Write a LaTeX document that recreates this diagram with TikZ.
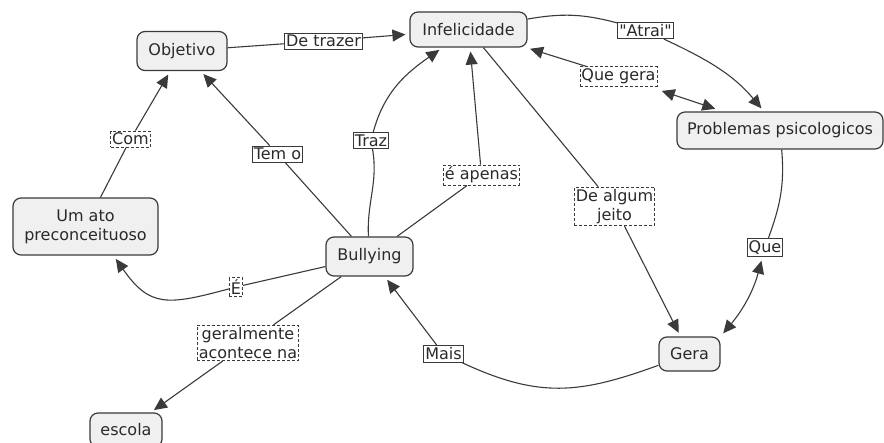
\documentclass[tikz,border=0pt]{standalone}
\usepackage{fontspec}
% plain family without TeX ligatures, so " stays a straight quote
\newfontfamily\mapfont{DejaVu Sans}
\usetikzlibrary{arrows.meta}
\definecolor{cfill}{HTML}{F0F0F0}
\definecolor{cline}{HTML}{3A3A3A}
\definecolor{ctext}{HTML}{2A2A2A}
\begin{document}
\begin{tikzpicture}[x=1pt,y=1pt,
  concept/.style={draw=cline, fill=cfill, rounded corners=8pt, line width=1.2pt,
    text=ctext, font=\mapfont\fontsize{16}{19}\selectfont, align=center, inner sep=0pt},
  linkword/.style={fill=white, draw=cline, line width=0.8pt, text=ctext,
    font=\mapfont\fontsize{16}{19}\selectfont, align=center, inner xsep=1.5pt, inner ysep=2pt},
  dashedlink/.style={linkword, dash pattern=on 3pt off 2pt},
  link/.style={draw=cline, line width=1.1pt},
  arr/.style={link, -{Triangle[length=13pt,width=12pt]}, shorten >=4pt},
  dbl/.style={link, {Triangle[length=13pt,width=12pt]}-{Triangle[length=13pt,width=12pt]}}
]
\useasboundingbox (0,0) rectangle (884,-443);

% concepts
\node[concept, minimum width=90pt, minimum height=39pt]  (objetivo) at (182,-51) {Objetivo};
\node[concept, minimum width=117pt, minimum height=35pt] (infel)    at (468.5,-29.5) {Infelicidade};
\node[concept, minimum width=206pt, minimum height=37pt] (prob)     at (780,-130.5) {Problemas psicologicos};
\node[concept, minimum width=145pt, minimum height=57pt] (umato)    at (85.5,-226.5) {Um ato\\preconceituoso};
\node[concept, minimum width=87pt, minimum height=39pt]  (bullying) at (369.5,-256.5) {Bullying};
\node[concept, minimum width=61pt, minimum height=34pt]  (gera)     at (689.5,-354) {Gera};
\node[concept, minimum width=72pt, minimum height=34pt]  (escola)   at (126,-430) {escola};

% linking phrases
\node[linkword]   (ltrazer)  at (323.5,-41)   {De trazer};
\node[linkword]   (latrai)   at (645.5,-30.5) {"Atrai"};
\node[dashedlink] (lquegera) at (618.5,-76.5) {Que gera};
\node[dashedlink] (lcom)     at (130.5,-139)  {Com};
\node[linkword]   (ltemo)    at (277.5,-154)  {Tem o};
\node[linkword]   (ltraz)    at (371,-140.5)  {Traz};
\node[dashedlink] (lapenas)  at (481.5,-175)  {é apenas};
\node[dashedlink] (ljeito)   at (614.5,-206.5) {De algum\\jeito};
\node[linkword]   (lque)     at (765,-247.5)  {Que};
\node[dashedlink] (le)       at (236,-287)    {É};
\node[dashedlink] (lgeral)   at (248,-343)    {geralmente\\acontece na};
\node[linkword]   (lmais)    at (443.5,-354)  {Mais};

% connections
\draw[link] (objetivo) -- (ltrazer);
\draw[arr]  (ltrazer) -- (infel);

\draw[link] (infel) to[out=10,in=165] (latrai);
\draw[arr]  (latrai) to[out=-25,in=130] (prob);

\draw[arr]  (lquegera) -- (infel);
\draw[dbl, shorten <=8pt, shorten >=14pt] (prob) -- (lquegera);

\draw[link] (prob) to[out=-85,in=70] (lque);
\draw[dbl, shorten <=4pt, shorten >=4pt] (lque) to[out=-105,in=50] (gera.north east);

\draw[link] (bullying) -- (ltemo);
\draw[arr]  (ltemo) -- (objetivo);

\draw[link] (umato) -- (lcom);
\draw[arr]  (lcom) -- (objetivo);

\draw[link] (bullying) to[out=93,in=-80] (ltraz);
\draw[arr]  (ltraz) to[out=75,in=-145] (infel);

\draw[link] (bullying) -- (lapenas);
\draw[arr]  (lapenas) -- (infel);

\draw[link] (infel) -- (ljeito);
\draw[arr]  (ljeito) -- (gera);

\draw[link] (bullying) -- (le);
\draw[arr]  (le) to[out=-165,in=-55,looseness=1.35] ([xshift=28pt]umato.south);

\draw[link] (bullying) -- (lgeral);
\draw[arr]  (lgeral) -- (escola);

\draw[link] (gera) to[out=-160,in=-25,looseness=1.1] (lmais);
\draw[arr]  (lmais) -- (bullying);
\end{tikzpicture}
\end{document}
